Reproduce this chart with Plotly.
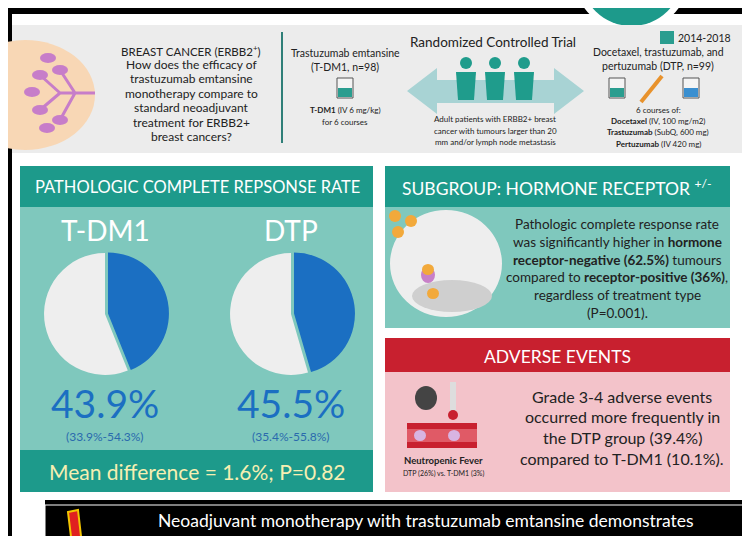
import plotly.graph_objects as go

W, H = 750, 536
OFF = 8  # page body margin

groups = ["T-DM1", "DTP"]
pcr_rates = [43.9, 45.5]
pcr_ci = ["(33.9%-54.3%)", "(35.4%-55.8%)"]
mean_diff = 1.6
p_value = 0.82

FONT = "Lato"
TEAL_DARK = "#1d9a8b"
TEAL_LIGHT = "#7fc8bd"
BLUE = "#1b6fc2"


def px(x, y):
    return (x - OFF) / W, 1 - (y - OFF) / H


fig = go.Figure()

# pies
centers = [(105, 314), (291, 314)]
r = 64
for g, rate, (cx, cy) in zip(groups, pcr_rates, centers):
    x0, y1 = px(cx - r, cy - r)
    x1, y0 = px(cx + r, cy + r)
    fig.add_trace(go.Pie(values=[rate, 100 - rate], labels=["pCR", "No pCR"],
                         sort=False, direction="clockwise", rotation=0,
                         marker=dict(colors=[BLUE, "#eeeeee"], line=dict(width=0)),
                         pull=[0.05, 0], textinfo="none", hoverinfo="skip",
                         showlegend=False, domain=dict(x=[x0, x1], y=[y0, y1])))

shapes = []


def rect(x0, y0, x1, y1, color, line=None):
    shapes.append(dict(type="rect", x0=x0, y0=y0, x1=x1, y1=y1, fillcolor=color,
                       line=dict(width=0) if line is None else line, layer="below"))


def circ(x0, y0, x1, y1, color):
    shapes.append(dict(type="circle", x0=x0, y0=y0, x1=x1, y1=y1, fillcolor=color,
                       line=dict(width=0), layer="below"))


rect(0, 0, W + 20, H + 20, "black")
rect(12, 14, 742, 500, "white")
rect(0, 500, 45, 545, "white")
rect(0, 500, 12, 545, "black")
circ(574, -80, 689, 32, "white")
circ(581, -73, 682, 26, TEAL_DARK)
# header band
rect(12, 25, 742, 153, "#ececec")
circ(-45, 40, 95, 150, "#f8d7b5")
shapes.append(dict(type="path", layer="below", line=dict(color="#c77dc9", width=3),
                   path="M95,93 L60,93 M60,93 L40,75 M60,93 L40,110 M75,93 L60,70 M75,93 L60,120"))
for (ax, ay) in [(40, 75), (32, 92), (40, 110), (60, 70), (60, 120), (47, 128), (48, 58)]:
    circ(ax - 8, ay - 5, ax + 8, ay + 5, "#c77dc9")
shapes.append(dict(type="line", x0=282, y0=32, x1=282, y1=143,
                   line=dict(color="#2f7f78", width=2), layer="below"))
# double arrow
shapes.append(dict(type="path", layer="below", fillcolor="#a8d3d4", line=dict(width=0),
                   path="M407,91 L437,68 L437,80 L554,80 L554,68 L584,91 "
                        "L554,114 L554,103 L437,103 L437,114 Z"))
for hx in [466, 495, 524]:
    circ(hx - 6, 57, hx + 6, 69, "#1f9c8c")
    shapes.append(dict(type="path", layer="below", fillcolor="#1f9c8c", line=dict(width=0),
                       path=f"M{hx-10},72 L{hx+10},72 L{hx+8},100 L{hx-8},100 Z"))
# IV bags
for bx, col in [(345, "#2a9d8f"), (617, "#2a9d8f"), (691, "#3a8fd0")]:
    shapes.append(dict(type="rect", x0=bx - 8, y0=78, x1=bx + 8, y1=98, fillcolor="#f4f4f4",
                       line=dict(color="#555", width=1), layer="below"))
    rect(bx - 7, 88, bx + 7, 97, col)
shapes.append(dict(type="line", x0=641, y0=102, x1=662, y1=76,
                   line=dict(color="#e8922c", width=4), layer="below"))
rect(660, 31, 674, 44, "#2a9d8f")

# PCR panel
rect(20, 166, 373, 207, TEAL_DARK)
rect(20, 207, 373, 450, TEAL_LIGHT)
rect(20, 450, 373, 492, TEAL_DARK)
# subgroup panel
rect(385, 166, 730, 207, TEAL_DARK)
rect(385, 207, 730, 328, TEAL_LIGHT)
circ(390, 210, 502, 317, "#eeeeee")
circ(412, 280, 492, 312, "#cfcfcf")
for (ox, oy) in [(395, 216), (411, 221), (398, 232)]:
    circ(ox - 6, oy - 6, ox + 6, oy + 6, "#f2a93b")
circ(421, 267, 435, 283, "#c880c8")
circ(422, 264, 434, 275, "#f2a93b")
circ(427, 288, 439, 299, "#f2a93b")
# adverse panel
rect(385, 338, 730, 372, "#c8202f")
rect(385, 372, 730, 492, "#f3c3ca")
circ(415, 386, 437, 410, "#444444")
rect(450, 382, 456, 416, "#dddddd")
circ(448, 410, 458, 420, "#c8202f")
rect(407, 423, 477, 448, "#c8202f")
rect(407, 429, 477, 442, "#e05a66")
circ(414, 430, 426, 441, "#d8b4e2")
circ(448, 430, 460, 441, "#d8b4e2")
# bottom banner
rect(45, 505, 760, 550, "black", line=dict(color="white", width=1))
shapes.append(dict(type="path", layer="below", fillcolor="#e02020",
                   line=dict(color="#f2c500", width=2),
                   path="M68,512 L78,510 L82,545 L72,545 Z"))

ann = []


def txt(x, y, s, size, color="#222", xanchor="center"):
    ann.append(dict(x=x, y=y, xref="x", yref="y", text=s, showarrow=False,
                    xanchor=xanchor, yanchor="middle",
                    font=dict(family=FONT, size=size, color=color)))


txt(191, 50, "BREAST CANCER (ERBB2<sup>+</sup>)", 11.5)
for i, line in enumerate(["How does the efficacy of", "trastuzumab emtansine",
                          "monotherapy compare to", "standard neoadjuvant",
                          "treatment for ERBB2+", "breast cancers?"]):
    txt(191, 64 + i * 14.5, line, 12)
txt(493, 42, "Randomized Controlled Trial", 13.5)
txt(345, 53, "Trastuzumab emtansine", 10.5)
txt(345, 67, "(T-DM1, n=98)", 10.5)
txt(345, 110, "<b>T-DM1</b> (IV 6 mg/kg)", 8)
txt(345, 122, "for 6 courses", 8)
for i, line in enumerate(["Adult patients with ERBB2+ breast",
                          "cancer with tumours larger than 20",
                          "mm and/or lymph node metastasis"]):
    txt(495, 119 + i * 11.5, line, 8)
txt(676, 38, "2014-2018", 10.5, xanchor="left")
txt(658, 52, "Docetaxel, trastuzumab, and", 10.5)
txt(658, 66, "pertuzumab (DTP, n=99)", 10.5)
txt(658, 110, "6 courses of:", 8)
txt(658, 121, "<b>Docetaxel</b> (IV, 100 mg/m2)", 8)
txt(658, 132, "<b>Trastuzumab</b> (SubQ, 600 mg)", 8)
txt(658, 144, "<b>Pertuzumab</b> (IV 420 mg)", 8)

txt(197, 187, "PATHOLOGIC COMPLETE REPSONSE RATE", 16.5, color="white")
for g, rate, ci, (cx, cy) in zip(groups, pcr_rates, pcr_ci, centers):
    txt(cx, 230, g, 28, color="white")
    txt(cx, 403, f"{rate}%", 39, color=BLUE)
    txt(cx, 436, ci, 12, color="#2a6aad")
txt(197, 471, f"Mean difference = {mean_diff}%; P={p_value}", 21, color="#f6efb2")

txt(557, 187, "SUBGROUP: HORMONE RECEPTOR <sup>+/-</sup>", 17.5, color="white")
for i, line in enumerate(["Pathologic complete response rate",
                          "was significantly higher in <b>hormone</b>",
                          "<b>receptor-negative (62.5%)</b> tumours",
                          "compared to <b>receptor-positive (36%)</b>,",
                          "regardless of treatment type",
                          "(P=0.001)."]):
    txt(617, 224 + i * 17.8, line, 13.5)

txt(557, 356, "ADVERSE EVENTS", 17.5, color="white")
for i, line in enumerate(["Grade 3-4 adverse events", "occurred more frequently in",
                          "the DTP group (39.4%)", "compared to T-DM1 (10.1%)."]):
    txt(622, 396 + i * 20.8, line, 16)
txt(443, 460, "<b>Neutropenic Fever</b>", 9.5)
txt(443, 473, "DTP (26%) vs. T-DM1 (3%)", 7)
txt(426, 520, "Neoadjuvant monotherapy with trastuzumab emtansine demonstrates", 17.5,
    color="white")

fig.update_layout(width=W, height=H, margin=dict(l=0, r=0, t=0, b=0),
                  paper_bgcolor="black", plot_bgcolor="black",
                  shapes=shapes, annotations=ann,
                  xaxis=dict(range=[OFF, W + OFF], visible=False, fixedrange=True),
                  yaxis=dict(range=[H + OFF, OFF], visible=False, fixedrange=True))
fig.write_html("out.html")
